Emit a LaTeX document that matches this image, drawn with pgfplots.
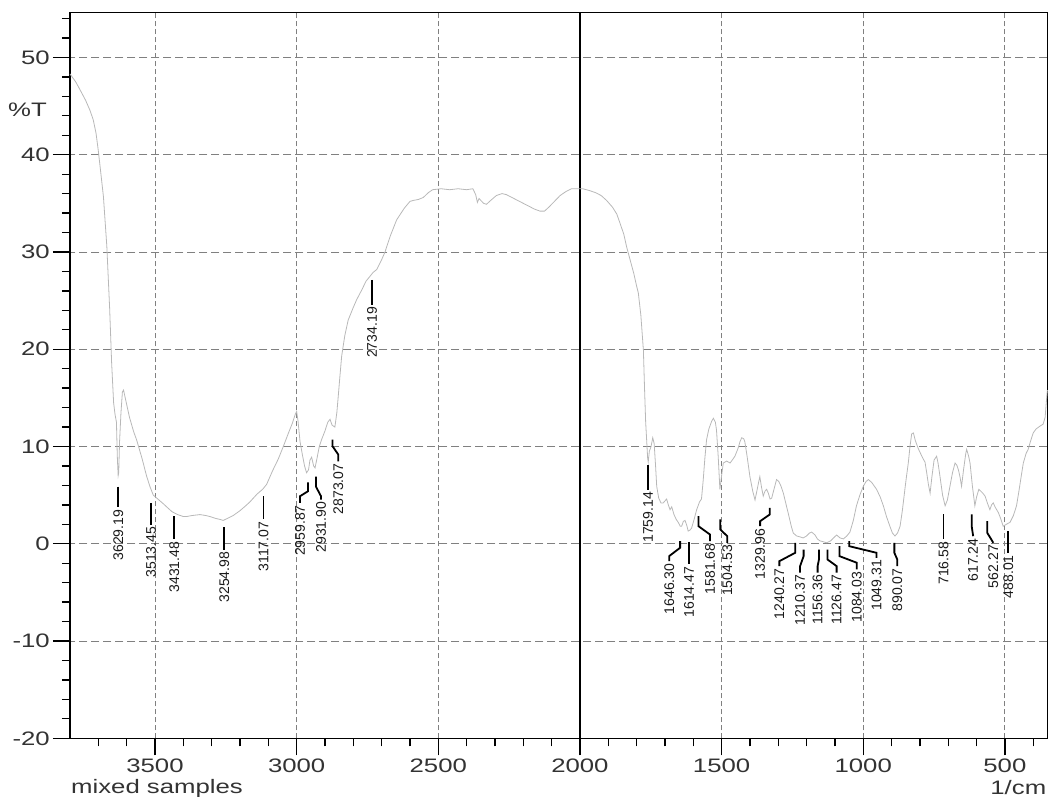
\documentclass[border=0pt]{standalone}
\usepackage{fontspec}
\setmainfont{Liberation Sans}[FakeStretch=1.32]
\newfontfamily\lblfont{Liberation Sans}
\usepackage{pgfplots}
\pgfplotsset{compat=1.18}
\tikzset{leader/.style={black, line width=1.8pt},
 lbl/.style={rotate=90, anchor=east, inner sep=1.5pt, font=\lblfont\fontsize{14}{16}\selectfont, text=black!90}}
\newcommand{\pks}[3]{\draw[leader] (axis cs:#1,#2) -- (axis cs:#1,#3) node[lbl] {#1};}
\newcommand{\pkz}[6]{\draw[leader] (axis cs:#1,#2) -- (axis cs:#1,#3) -- (axis cs:#4,#5) -- (axis cs:#4,#6) node[lbl] {#1};}
\begin{document}
\begin{tikzpicture}
\path[use as bounding box] (-70pt,-58.7pt) rectangle (982pt,738.3pt);
\begin{axis}[
 scale only axis, width=977.4pt, height=725.6pt,
 x dir=reverse, xmin=350, xmax=3800, ymin=-20, ymax=54.6,
 xtick={500,1000,...,3500}, ytick={-20,-10,...,50},
 minor xtick={400,500,...,3700}, minor ytick={-18,-16,...,54},
 tick align=outside, xtick pos=left, ytick pos=left,
 major tick length=17pt, minor tick length=8pt,
 every tick/.style={black, line width=1.3pt},
 axis line style={black, line width=1.4pt},
 grid=major,
 x grid style={black!50, line width=0.9pt, dash pattern=on 5pt off 3pt},
 y grid style={black!50, line width=0.9pt, dash pattern=on 8pt off 4pt},
 tick label style={font=\fontsize{19.5}{22}\selectfont, text=black!80},
 /pgf/number format/assume math mode=true,
 /pgf/number format/1000 sep={},
 yticklabel style={inner sep=3pt},
 xticklabel style={inner sep=3pt},
 clip=false,
]
\draw[black, line width=1.4pt] (axis cs:2000,-20) -- (axis cs:2000,54.6);
\addplot[color=black!28, line width=0.8pt] table {
3800 48.3
3795 48.1
3780 47.5
3765 46.7
3745 45.6
3730 44.6
3718 43.6
3708 42.2
3700 40.4
3690 37.8
3682 35.7
3670 30.6
3660 24.2
3653 18.6
3646 14.5
3641 13.3
3636 12.5
3633 9.0
3630 7.0
3628 7.3
3625 10.5
3620 13.5
3615 15.6
3611 15.8
3605 15.0
3590 13.0
3575 11.5
3565 10.7
3545 8.7
3530 7.0
3518 5.9
3506 5.0
3490 4.6
3470 4.1
3459 3.8
3440 3.3
3420 3.0
3400 2.8
3388 2.8
3370 2.9
3341 3.0
3320 2.9
3306 2.8
3285 2.6
3270 2.5
3259 2.4
3245 2.6
3224 2.9
3200 3.4
3180 3.9
3165 4.3
3140 5.1
3120 5.6
3106 6.1
3085 7.5
3065 8.7
3047 10.0
3030 11.3
3015 12.4
3005 13.3
3000 13.6
2995 12.6
2988 10.5
2980 9.2
2972 8.0
2965 7.3
2958 7.6
2953 8.6
2947 8.9
2940 8.0
2935 7.8
2928 8.8
2920 10.0
2912 10.7
2900 11.6
2890 12.5
2882 12.8
2875 12.2
2865 12.0
2858 13.5
2853 15.2
2847 17.3
2841 19.3
2830 21.4
2818 23.0
2800 24.3
2788 25.1
2770 26.1
2755 27.0
2741 27.5
2730 27.9
2717 28.2
2700 29.2
2688 30.0
2670 31.6
2647 33.3
2620 34.5
2600 35.2
2588 35.3
2570 35.4
2553 35.6
2535 36.1
2520 36.4
2490 36.5
2460 36.4
2430 36.5
2400 36.4
2378 36.5
2368 35.9
2362 35.1
2356 35.5
2350 35.3
2340 35.0
2330 34.9
2315 35.3
2295 35.8
2275 36.0
2260 35.9
2240 35.6
2220 35.3
2200 35.0
2180 34.7
2160 34.4
2141 34.2
2125 34.2
2110 34.6
2090 35.2
2070 35.8
2050 36.2
2030 36.5
2010 36.5
1990 36.5
1965 36.3
1945 36.1
1925 35.8
1906 35.3
1885 34.6
1870 33.9
1859 33.0
1845 31.8
1835 30.5
1823 29.2
1810 27.8
1800 26.5
1794 25.8
1785 23.5
1780 21.5
1776 19.9
1772 16.0
1768 12.5
1764 10.4
1761 8.8
1759 8.4
1755 9.5
1749 10.0
1743 10.9
1738 10.3
1733 8.0
1729 5.9
1722 4.7
1714 4.2
1706 4.2
1700 4.4
1694 4.6
1688 4.0
1682 3.5
1676 3.8
1668 3.0
1660 2.5
1653 2.2
1646 1.8
1641 1.8
1635 2.3
1629 2.4
1622 1.8
1618 1.3
1612 1.4
1606 1.6
1598 2.4
1588 3.5
1578 4.3
1571 4.6
1565 6.5
1559 8.8
1553 10.7
1545 11.8
1535 12.6
1529 12.9
1522 12.5
1518 11.7
1512 9.0
1506 5.6
1500 7.0
1494 8.3
1482 8.5
1470 8.3
1460 8.7
1453 9.0
1442 9.8
1435 10.5
1429 10.9
1422 10.8
1418 10.5
1410 9.0
1400 6.9
1390 5.4
1382 4.5
1375 5.5
1368 6.5
1365 6.9
1359 5.8
1353 4.9
1347 5.4
1341 5.6
1335 5.2
1329 4.6
1323 4.7
1316 5.5
1306 6.6
1298 6.4
1290 5.9
1282 5.2
1272 4.0
1262 2.8
1254 1.8
1247 1.1
1235 0.8
1222 0.7
1212 0.6
1200 0.8
1190 1.1
1182 1.2
1170 0.9
1162 0.5
1153 0.3
1140 0.2
1129 0.1
1115 0.3
1105 0.6
1094 0.9
1082 0.6
1070 0.5
1058 0.8
1047 1.2
1035 2.4
1024 3.9
1012 5.0
1000 5.9
990 6.4
982 6.6
970 6.3
953 5.6
940 4.8
929 3.9
918 2.8
906 1.8
897 1.1
888 0.8
879 1.1
870 1.8
862 3.4
853 5.6
847 7.0
841 8.3
835 10.0
829 11.3
823 11.4
816 10.6
806 9.8
798 9.3
788 8.7
782 8.4
776 7.3
770 6.1
764 5.2
758 6.8
750 8.6
741 9.0
736 8.3
729 6.9
720 5.0
711 3.9
703 4.5
694 5.9
685 7.3
676 8.3
670 8.1
664 7.6
658 6.8
653 5.9
646 7.6
638 9.3
635 9.7
628 9.0
623 8.3
615 6.0
606 3.9
600 4.8
592 5.6
585 5.4
578 5.2
570 4.9
562 4.2
553 3.5
547 4.0
541 4.2
535 3.8
523 3.2
515 2.6
506 1.8
495 2.0
482 2.2
470 2.9
459 3.9
450 5.5
441 7.2
435 8.3
425 9.3
418 9.7
410 10.5
400 11.4
390 11.8
376 12.1
365 12.3
358 13.0
354 14.5
351 15.5
350 15.8
};
\pks{3629.19}{5.88}{3.73}
\pks{3513.45}{4.21}{1.98}
\pks{3431.48}{2.83}{0.44}
\pks{3254.98}{1.70}{-0.59}
\pks{3117.07}{4.89}{2.50}
\pkz{2959.87}{6.32}{5.40}{2988}{4.89}{4.21}
\pkz{2931.90}{6.91}{5.88}{2914}{4.89}{4.55}
\pkz{2873.07}{10.71}{10.02}{2853}{9.17}{8.48}
\pks{2734.19}{27.13}{24.57}
\pks{1759.14}{8.14}{5.57}
\pkz{1646.30}{0.27}{-0.41}{1685}{-1.27}{-1.79}
\pks{1614.47}{0.16}{-2.13}
\pkz{1581.68}{2.83}{1.81}{1541}{0.95}{0.27}
\pkz{1504.53}{2.50}{1.47}{1480}{0.78}{0.10}
\pkz{1329.96}{3.69}{3.01}{1364}{2.32}{1.81}
\pkz{1240.27}{0.10}{-0.93}{1296}{-1.79}{-2.30}
\pkz{1210.37}{-0.59}{-1.27}{1223}{-2.30}{-2.98}
\pkz{1156.36}{-0.59}{-1.61}{1161}{-2.30}{-2.98}
\pkz{1126.47}{-0.59}{-1.61}{1094}{-2.30}{-2.98}
\pkz{1084.03}{-0.25}{-1.27}{1023}{-1.95}{-2.64}
\pkz{1049.31}{0.27}{-0.25}{953}{-0.93}{-1.44}
\pkz{890.07}{0.10}{-0.93}{880}{-1.61}{-2.30}
\pks{716.58}{3.01}{0.44}
\pkz{617.24}{3.01}{1.81}{612}{0.78}{0.78}
\pkz{562.27}{2.32}{1.13}{541}{0.10}{0.10}
\pks{488.01}{1.29}{-0.93}
\node[anchor=east, inner sep=0pt, font=\fontsize{19.5}{22}\selectfont, text=black!80] at ([xshift=-23pt]axis cs:3800,44.6) {\%T};
\node[anchor=west, inner sep=0pt, font=\fontsize{19.5}{22}\selectfont, text=black!80] at ([xshift=1pt,yshift=-50.5pt]axis cs:3800,-20) {mixed samples};
\node[anchor=east, inner sep=0pt, font=\fontsize{19.5}{22}\selectfont, text=black!80] at ([xshift=-1pt,yshift=-49.5pt]axis cs:350,-20) {1/cm};
\end{axis}
\end{tikzpicture}
\end{document}
